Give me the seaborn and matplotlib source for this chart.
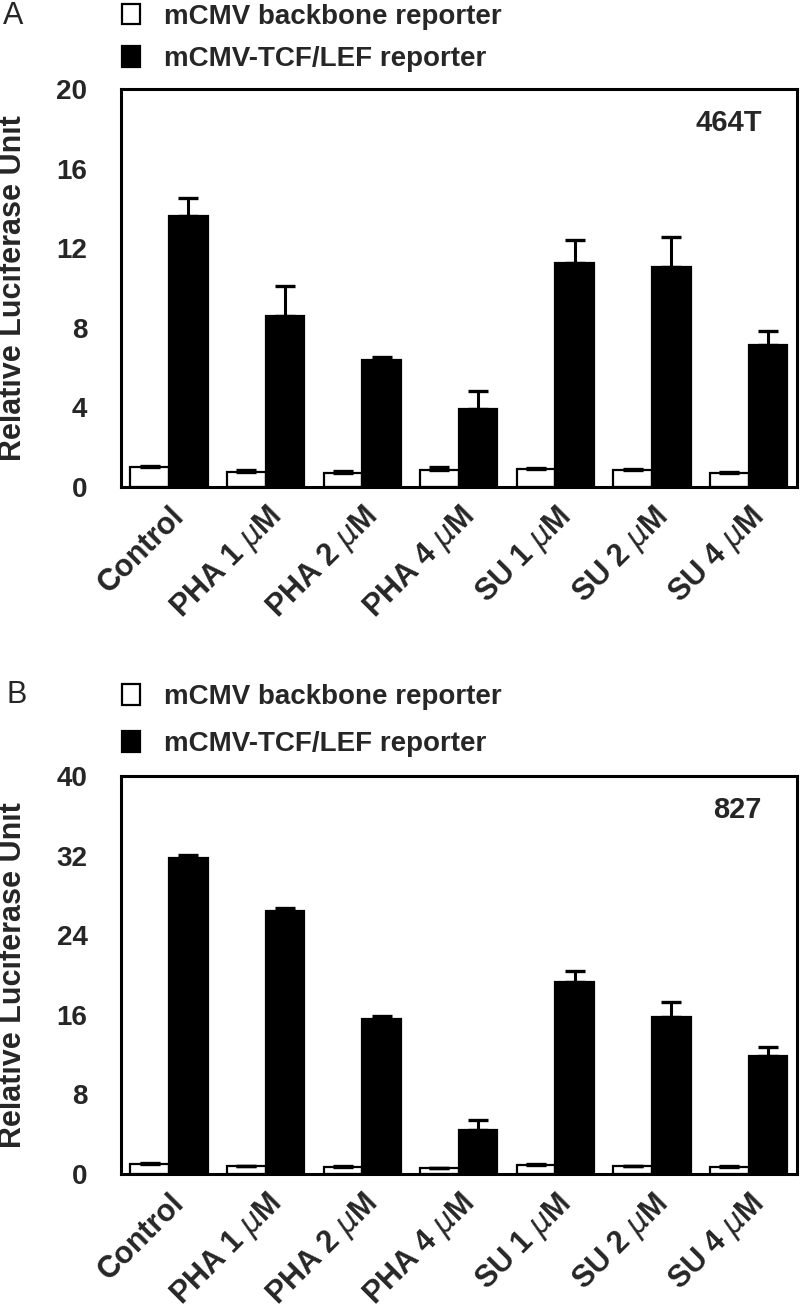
import numpy as np
import pandas as pd
import matplotlib.pyplot as plt
import matplotlib.patches as mpatches
import seaborn as sns

categories = ['Control', r'PHA 1 $\mu$M', r'PHA 2 $\mu$M', r'PHA 4 $\mu$M',
              r'SU 1 $\mu$M', r'SU 2 $\mu$M', r'SU 4 $\mu$M']
series_names = ['mCMV backbone reporter', 'mCMV-TCF/LEF reporter']

# panel A (464T)
a_backbone = [1.02, 0.75, 0.72, 0.87, 0.90, 0.85, 0.70]
a_backbone_err = [0.05, 0.10, 0.10, 0.15, 0.08, 0.06, 0.05]
a_tcf = [13.6, 8.6, 6.4, 3.9, 11.25, 11.05, 7.15]
a_tcf_err = [0.9, 1.5, 0.15, 0.95, 1.15, 1.5, 0.7]

# panel B (827)
b_backbone = [0.98, 0.80, 0.75, 0.57, 0.90, 0.80, 0.75]
b_backbone_err = [0.10, 0.05, 0.05, 0.05, 0.10, 0.05, 0.08]
b_tcf = [31.8, 26.4, 15.55, 4.45, 19.3, 15.75, 11.85]
b_tcf_err = [0.3, 0.35, 0.35, 0.95, 1.15, 1.55, 0.95]

sns.set_style("white")
plt.rcParams['font.family'] = ['Liberation Sans', 'DejaVu Sans']
plt.rcParams['mathtext.fontset'] = 'dejavusans'


def make_df(backbone, tcf):
    return pd.DataFrame({
        'treatment': categories * 2,
        'reporter': [series_names[0]] * len(categories) + [series_names[1]] * len(categories),
        'value': list(backbone) + list(tcf),
    })


def draw_panel(ax, backbone, backbone_err, tcf, tcf_err, ymax, step, cell):
    df = make_df(backbone, tcf)
    sns.barplot(data=df, x='treatment', y='value', hue='reporter',
                palette={series_names[0]: 'white', series_names[1]: 'black'},
                edgecolor='black', linewidth=1.6, errorbar=None, legend=False,
                width=0.8, ax=ax)
    for cont, errs in zip(ax.containers, [backbone_err, tcf_err]):
        xs = [p.get_x() + p.get_width() / 2 for p in cont.patches]
        hs = [p.get_height() for p in cont.patches]
        ax.errorbar(xs, hs, yerr=[np.zeros(len(errs)), errs], fmt='none',
                    ecolor='black', elinewidth=2.2, capsize=7, capthick=2.4, zorder=1)
    ax.set_xlim(-0.5, len(categories) - 0.5)
    ax.set_ylim(0, ymax)
    ax.set_yticks(np.arange(0, ymax + 1, step))
    ax.tick_params(axis='y', length=0, pad=24, labelsize=20)
    ax.tick_params(axis='x', length=0, pad=10, labelsize=22)
    for lab in ax.get_yticklabels():
        lab.set_fontweight('bold')
    ax.set_xticks(range(len(categories)))
    ax.set_xticklabels(categories, rotation=45, ha='right', rotation_mode='anchor',
                       fontweight='bold')
    ax.set_xlabel('')
    ax.set_ylabel('Relative Luciferase Unit', fontsize=22, fontweight='bold')
    ax.yaxis.set_label_coords(-0.138, 0.5)
    for s in ax.spines.values():
        s.set_linewidth(2.2)
        s.set_color('black')
    ax.text(0.948, 0.915, cell, transform=ax.transAxes, ha='right', va='center',
            fontsize=21, fontweight='bold')


fig = plt.figure(figsize=(8, 13.11), dpi=100)
ax_a = fig.add_axes([0.151, 0.6285, 0.845, 0.3036])
ax_b = fig.add_axes([0.151, 0.1045, 0.845, 0.3036])

draw_panel(ax_a, a_backbone, a_backbone_err, a_tcf, a_tcf_err, 20, 4, '464T')
draw_panel(ax_b, b_backbone, b_backbone_err, b_tcf, b_tcf_err, 40, 8, '827')

handles = [mpatches.Patch(facecolor='white', edgecolor='black', linewidth=1.6),
           mpatches.Patch(facecolor='black', edgecolor='black', linewidth=1.6)]
for top, spacing in [(0.997, 0.58), (0.478, 0.75)]:
    fig.legend(handles, series_names, loc='upper left', bbox_to_anchor=(0.153, top),
               frameon=False, borderpad=0, borderaxespad=0, handlelength=0.65,
               handleheight=0.75, handletextpad=0.85, labelspacing=spacing,
               prop={'weight': 'bold', 'size': 20})

fig.text(0.004, 0.988, 'A', fontsize=22, ha='left', va='center')
fig.text(0.008, 0.470, 'B', fontsize=22, ha='left', va='center')

fig.savefig('out.png', dpi=100)
